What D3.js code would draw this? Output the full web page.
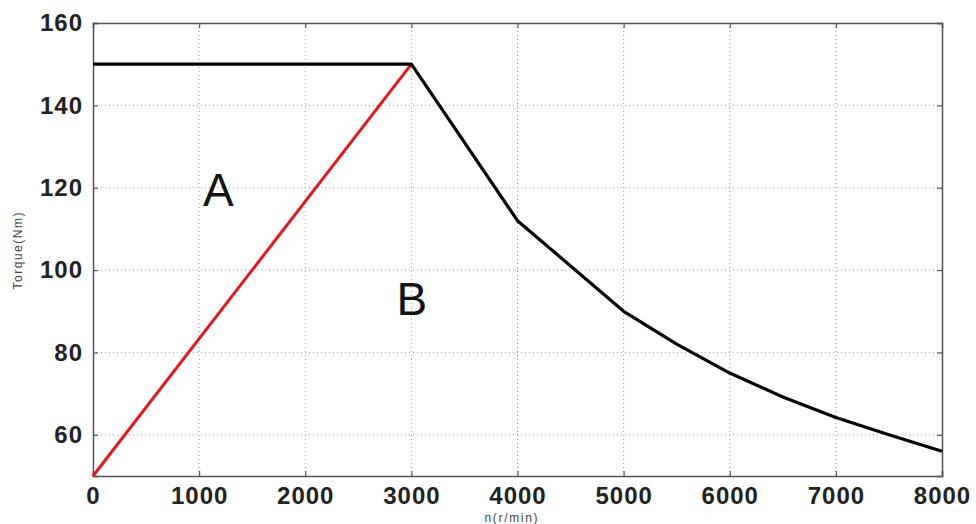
<!DOCTYPE html>
<html><head><meta charset="utf-8">
<script src="https://cdn.jsdelivr.net/npm/d3@7"></script>
<style>body{margin:0;background:#fff;}svg{display:block;}</style>
</head><body>
<svg id="c" width="976" height="524"></svg>
<script>
const xTicks = [0,1000,2000,3000,4000,5000,6000,7000,8000];
const yTicks = [60,80,100,120,140,160];
const blackSpeed = [0,3000,4000,5000,5500,6000,6500,7000,7500,8000];
const blackTorque = [150,150,112,90,82,75,69.2,64.2,60,56];
const redSpeed = [0,3000];
const redTorque = [50,150];
const labels = [{t:"A",x:1180,y:119.5},{t:"B",x:3005,y:93}];

const svg = d3.select("#c");
const L=93,R=942,T=23,B=476;
const x = d3.scaleLinear().domain([0,8000]).range([L,R]);
const y = d3.scaleLinear().domain([50,160]).range([B,T]);

// grid
const g = svg.append("g");
g.selectAll(".vx").data(xTicks.slice(1,-1)).enter().append("line")
  .attr("x1",d=>x(d)).attr("x2",d=>x(d)).attr("y1",T).attr("y2",B)
  .attr("stroke","#999").attr("stroke-width",1).attr("stroke-dasharray","1,3");
g.selectAll(".hy").data(yTicks.slice(0,-1)).enter().append("line")
  .attr("y1",d=>y(d)).attr("y2",d=>y(d)).attr("x1",L).attr("x2",R)
  .attr("stroke","#999").attr("stroke-width",1).attr("stroke-dasharray","1,3");

// axes
const fontF = "Liberation Sans, Arial, sans-serif";
const ax = svg.append("g").attr("transform",`translate(0,${B})`)
  .call(d3.axisBottom(x).tickValues(xTicks).tickSize(-5).tickPadding(11).tickFormat(d3.format("d")));
const ay = svg.append("g").attr("transform",`translate(${L},0)`)
  .call(d3.axisLeft(y).tickValues(yTicks).tickSize(-5).tickPadding(10).tickFormat(d3.format("d")));
const axT = svg.append("g").attr("transform",`translate(0,${T})`)
  .call(d3.axisTop(x).tickValues(xTicks).tickSize(-5).tickFormat(""));
const ayR = svg.append("g").attr("transform",`translate(${R},0)`)
  .call(d3.axisRight(y).tickValues(yTicks).tickSize(-5).tickFormat(""));
[ax,ay,axT,ayR].forEach(a=>{
  a.select(".domain").attr("stroke","#555").attr("stroke-width",1.5);
  a.selectAll(".tick line").attr("stroke","#555").attr("stroke-width",1.2);
  a.selectAll("text").attr("font-family",fontF).attr("font-weight","bold")
    .attr("font-size",24).attr("letter-spacing",1).attr("fill","#222");
});

// lines
const line = d3.line().x(d=>x(d[0])).y(d=>y(d[1]));
svg.append("path").datum(redSpeed.map((s,i)=>[s,redTorque[i]]))
  .attr("d",line).attr("fill","none").attr("stroke","#e8141e").attr("stroke-width",3);
svg.append("path").datum(blackSpeed.map((s,i)=>[s,blackTorque[i]]))
  .attr("d",line).attr("fill","none").attr("stroke","#000").attr("stroke-width",3.2)
  .attr("stroke-linejoin","round");

// labels
svg.selectAll(".lab").data(labels).enter().append("text")
  .attr("x",d=>x(d.x)).attr("y",d=>y(d.y)).attr("text-anchor","middle")
  .attr("dominant-baseline","central")
  .attr("font-family",fontF).attr("font-size",46).attr("fill","#111").text(d=>d.t);

// axis titles
svg.append("text").attr("x",511).attr("y",522).attr("text-anchor","middle")
  .attr("font-family",fontF).attr("font-size",12).attr("textLength",53).attr("fill","#444").text("n(r/min)");
svg.append("text").attr("transform","translate(22,251) rotate(-90)").attr("text-anchor","middle")
  .attr("font-family",fontF).attr("font-size",12).attr("textLength",77).attr("fill","#444").text("Torque(Nm)");
</script>
</body></html>
